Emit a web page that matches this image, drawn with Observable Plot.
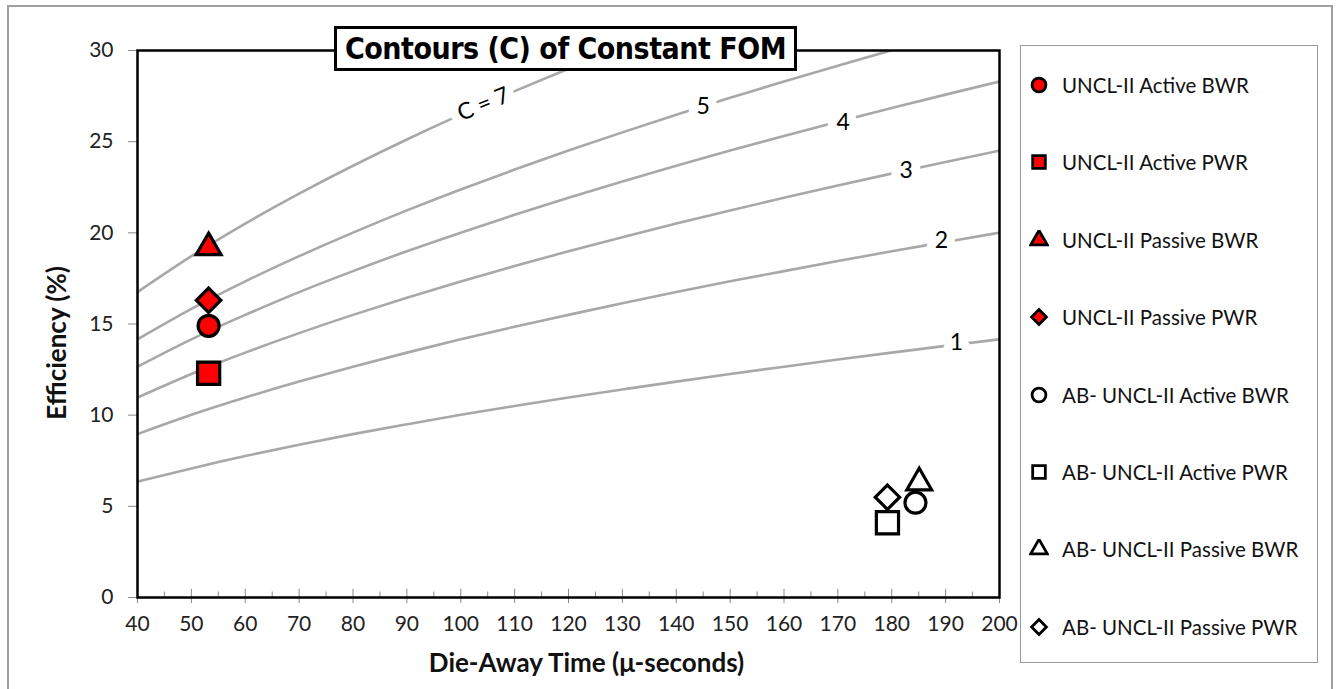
<!DOCTYPE html>
<html><head><meta charset="utf-8">
<script src="https://cdn.jsdelivr.net/npm/d3@7"></script>
<script src="https://cdn.jsdelivr.net/npm/@observablehq/plot@0.6"></script>
<style>
body{margin:0;background:#fff;font-family:Lato,"Open Sans",sans-serif;}
#wrap{position:relative;width:1338px;height:689px;overflow:hidden;background:#fff;}
#outer{position:absolute;left:7px;top:5px;width:1326px;height:720px;border:2px solid #a0a0a0;box-sizing:border-box;}
#chart{position:absolute;left:0;top:0;}
#title{position:absolute;left:334px;top:26px;width:463px;height:45px;border:3px solid #000;background:#fff;box-sizing:border-box;font:bold 30px "Liberation Sans Narrow","DejaVu Sans Condensed",sans-serif;display:flex;align-items:center;justify-content:center;white-space:nowrap;letter-spacing:-0.5px;}
#ytitle{position:absolute;left:56px;top:343px;transform:translate(-50%,-50%) rotate(-90deg);font-weight:bold;font-size:26px;color:#111;white-space:nowrap;line-height:1;}
#legend{position:absolute;left:1020px;top:45px;width:298px;height:618px;border:1.5px solid #9a9a9a;background:#fff;box-sizing:border-box;}
.item{position:absolute;left:8px;display:flex;align-items:center;height:30px;font-size:20.5px;color:#111;white-space:nowrap;}
.item svg{margin-right:13px;}
</style></head>
<body>
<div id="wrap">
  <div id="outer"></div>
  <div id="chart"></div>
  <div id="title">Contours (C) of Constant FOM</div>
  <div id="ytitle">Efficiency (%)</div>
  <div id="legend"></div>
</div>
<script>
// ---- data ----
const dieAwayGrid = [40,50,60,70,80,90,100,110,120,130,140,150,160,170,180,190,200];
const contourC1 = [6.35,7.08,7.76,8.38,8.96,9.50,10.02,10.50,10.97,11.41,11.84,12.26,12.66,13.05,13.43,13.80,14.16];
const contourC2 = [8.96,10.02,10.97,11.84,12.66,13.43,14.16,14.85,15.50,16.14,16.75,17.34,17.90,18.45,18.99,19.50,20.01];
const contourC3 = [10.97,12.26,13.43,14.50,15.50,16.44,17.33,18.18,18.99,19.76,20.51,21.23,21.92,22.60,23.25,23.89,24.51];
const contourC4 = [12.66,14.16,15.50,16.75,17.90,18.99,20.01,20.99,21.92,22.82,23.68,24.51,25.31,26.09,26.85,27.58,28.30];
const contourC5 = [14.16,15.83,17.34,18.72,20.01,21.23,22.38,23.47,24.51,25.51,26.48,27.41,28.30,29.17,30.02,30.84,null];
const contourC7 = [16.75,18.72,20.51,22.15,23.68,25.12,26.48,27.77,29.00,30.19,null,null,null,null,null,null,null];
const contourLevels = [1,2,3,4,5,7];
const contourLabelText = ["1","2","3","4","5","C = 7"];
const contourLabelX = [192,189.2,182.7,171,145,104.2];
const contourLabelY = [14.0,19.6,23.4,26.05,26.9,27.05];

const seriesNames = ["UNCL-II Active BWR","UNCL-II Active PWR","UNCL-II Passive BWR","UNCL-II Passive PWR",
  "AB- UNCL-II Active BWR","AB- UNCL-II Active PWR","AB- UNCL-II Passive BWR","AB- UNCL-II Passive PWR"];
const dieAwayTime = [53.2,53.2,53.2,53.2,184.4,179.2,185.1,179.2];
const efficiency = [14.9,12.3,19.2,16.3,5.2,4.1,6.3,5.5];

const xTicks = [40,50,60,70,80,90,100,110,120,130,140,150,160,170,180,190,200];
const xMinorTicks = [45,55,65,75,85,95,105,115,125,135,145,155,165,175,185,195];
const yTicks = [0,5,10,15,20,25,30];

// ---- styling helpers ----
const shapeOf = n => n.includes("Active BWR") ? "circle" : n.includes("Active PWR") ? "square" : n.includes("Passive BWR") ? "triangle" : "diamond2";
const rOf = {circle:10.5, square:12.5, triangle:9.2, diamond2:11};
const fillOf = n => n.startsWith("AB") ? "white" : "#ff0000";

const contourSets = [contourC1,contourC2,contourC3,contourC4,contourC5,contourC7];
const contourRows = [];
contourLevels.forEach((c,i) => dieAwayGrid.forEach((t,j) => contourRows.push({c, t, e: contourSets[i][j]})));
const labelRows = contourLabelText.map((s,i) => ({text:s, t:contourLabelX[i], e:contourLabelY[i], rot: s.startsWith("C") ? -22 : 0}));
const points = seriesNames.map((n,i) => ({name:n, t:dieAwayTime[i], e:efficiency[i], shape:shapeOf(n), fill:fillOf(n)}));

const dotMarks = ["circle","square","triangle","diamond2"].map(s =>
  Plot.dot(points.filter(p => p.shape === s), {x:"t", y:"e", symbol:()=>s, r:rOf[s], fill:"fill", stroke:"#000", strokeWidth:3.2})
);

const chart = Plot.plot({
  width:1338, height:689,
  marginLeft:137, marginRight:339, marginTop:50, marginBottom:92,
  x:{domain:[40,200]},
  y:{domain:[0,30]},
  symbol:{type:"identity"},
  style:{fontFamily:"Lato, 'Open Sans', sans-serif", background:"transparent", overflow:"visible"},
  marks:[
    Plot.line(contourRows, {x:"t", y:"e", z:"c", stroke:"#a8a8a8", strokeWidth:2.6, curve:"natural", clip:true}),
    Plot.text(labelRows, {x:"t", y:"e", text:"text", rotate:"rot", fill:"#000", stroke:"white", strokeWidth:18, fontSize:23}),
    Plot.axisY({ticks:yTicks, tickSize:9, text:null, stroke:"#8a8a8a", label:null}),
    Plot.axisX({ticks:xTicks, tickSize:6, text:null, stroke:"#8a8a8a", label:null}),
    Plot.text(yTicks, {y:d=>d, frameAnchor:"left", dx:-24, textAnchor:"end", fontSize:21, fill:"#222"}),
    Plot.text(xTicks, {x:d=>d, frameAnchor:"bottom", dy:33, fontSize:21, fill:"#222"}),
    Plot.ruleX(xTicks, {y1:0, y2:0.45, stroke:"#8a8a8a"}),
    Plot.ruleX(xMinorTicks, {y1:0, y2:0.3, stroke:"#8a8a8a"}),
    Plot.frame({stroke:"#000", strokeWidth:2.5}),
    ...dotMarks,
    Plot.text(["Die-Away Time (μ-seconds)"], {frameAnchor:"bottom", dx:18, dy:74, fontWeight:"bold", fontSize:26, fill:"#111"})
  ]
});
document.getElementById("chart").appendChild(chart);

// ---- legend ----
const legend = document.getElementById("legend");
const legendIcon = (shape, fill) => {
  const sz = 20;
  const d = d3.symbol().type({circle:d3.symbolCircle, square:d3.symbolSquare, triangle:d3.symbolTriangle, diamond2:d3.symbolDiamond2}[shape])
    .size({circle:150, square:160, triangle:120, diamond2:140}[shape])();
  return `<svg width="${sz}" height="${sz}" viewBox="-10 -10 20 20"><path d="${d}" fill="${fill}" stroke="#000" stroke-width="2.8"/></svg>`;
};
points.forEach((p,i) => {
  const div = document.createElement("div");
  div.className = "item";
  div.style.top = (39 + i*77.4 - 15) + "px";
  div.innerHTML = legendIcon(p.shape, p.fill) + `<span>${p.name}</span>`;
  legend.appendChild(div);
});
</script>
</body></html>
